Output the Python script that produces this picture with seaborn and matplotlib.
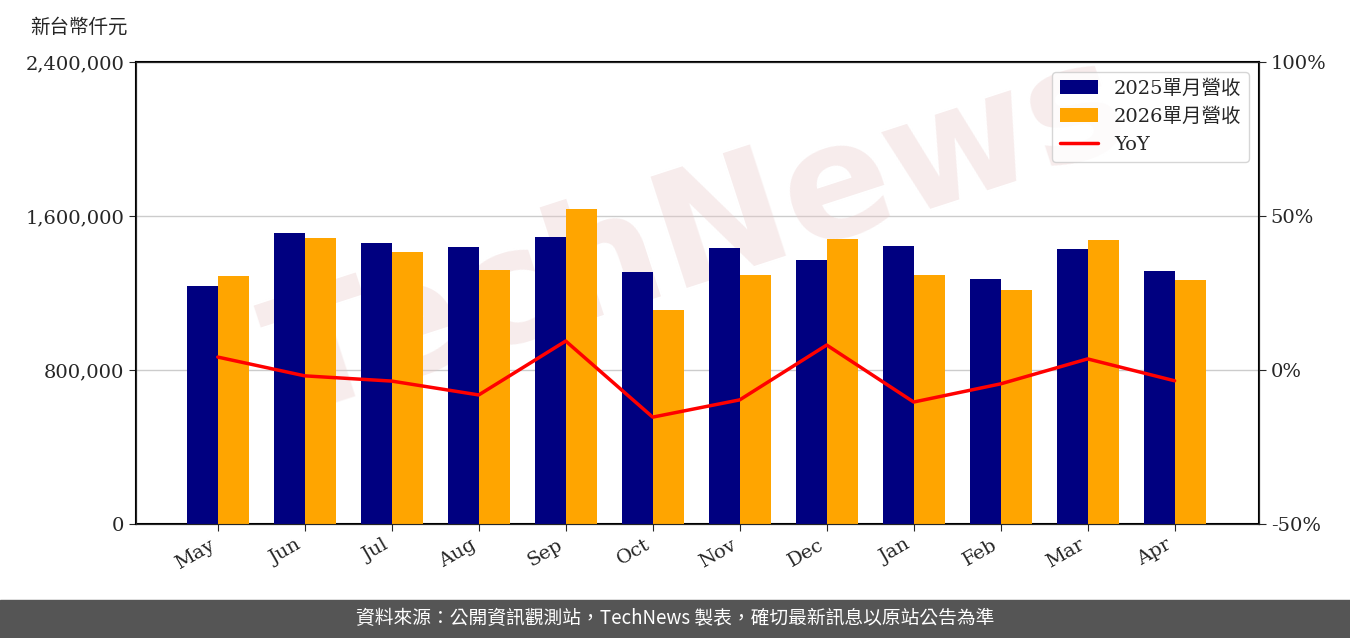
import pandas as pd
import seaborn as sns
import matplotlib.pyplot as plt
from matplotlib.ticker import FuncFormatter

months = ['May', 'Jun', 'Jul', 'Aug', 'Sep', 'Oct', 'Nov', 'Dec', 'Jan', 'Feb', 'Mar', 'Apr']
rev_2025 = [1236000, 1512000, 1460000, 1439000, 1491000, 1309000, 1434000, 1371000, 1444000, 1273000, 1429000, 1314000]
rev_2026 = [1288000, 1486000, 1413000, 1320000, 1636000, 1112000, 1294000, 1481000, 1294000, 1216000, 1475000, 1268000]
yoy = [4.2, -1.9, -3.6, -8.1, 9.4, -15.3, -9.7, 8.1, -10.4, -4.5, 3.6, -3.5]
lab_a = '2025單月營收'
lab_b = '2026單月營收'

fams = ['DejaVu Serif', 'Noto Sans CJK TC']
sns.set_style('white')
plt.rcParams['font.family'] = fams

df = pd.DataFrame({'month': months * 2,
                   'rev': rev_2025 + rev_2026,
                   'series': [lab_a] * 12 + [lab_b] * 12})

fig = plt.figure(figsize=(13.5, 6.38), dpi=100)
ax = fig.add_axes([136 / 1350, 1 - 524 / 638, 1123 / 1350, 462 / 638])

# watermark, behind the bars
ax.text(0.5, 0.62, 'TechNews', transform=ax.transAxes, fontsize=115, color='#e8c8c8',
        alpha=0.35, rotation=18, ha='center', va='center', family='DejaVu Sans',
        fontweight='bold', zorder=1)

sns.barplot(data=df, x='month', y='rev', hue='series', order=months,
            palette=['#000080', '#FFA500'], saturation=1, width=0.71,
            linewidth=0, ax=ax, zorder=3)
ax.set_ylim(0, 2400000)
ax.set_yticks([0, 800000, 1600000, 2400000])
ax.yaxis.set_major_formatter(FuncFormatter(lambda v, p: f'{int(v):,}'))
ax.grid(axis='y', color='#cccccc', linewidth=1, zorder=0)
ax.set_axisbelow(True)
ax.set_xlabel('')
ax.set_ylabel('')
ax.tick_params(axis='both', labelsize=14, length=5, direction='out', left=True, bottom=True)
for lab in ax.get_xticklabels():
    lab.set_rotation(30)
    lab.set_ha('right')
for s in ax.spines.values():
    s.set_color('black')
    s.set_linewidth(1.5)

ax2 = ax.twinx()
ax2.plot(range(len(months)), yoy, color='red', linewidth=2.5, label='YoY')
ax2.set_ylim(-50, 100)
ax2.set_yticks([-50, 0, 50, 100])
ax2.yaxis.set_major_formatter(FuncFormatter(lambda v, p: f'{int(v)}%'))
ax2.tick_params(axis='y', labelsize=14, length=5, right=True)
ax.set_xlim(-0.94, 11.97)

h1, l1 = ax.get_legend_handles_labels()
h2, l2 = ax2.get_legend_handles_labels()
ax.get_legend().remove()
ax2.legend(h1 + h2, l1 + l2, loc='upper right', fontsize=14, frameon=True, fancybox=True)

fig.text(30 / 1350, 1 - 27 / 638, '新台幣仟元', fontsize=14, va='center', ha='left')

fig.patches.append(plt.Rectangle((0, 0), 1, 38 / 638, transform=fig.transFigure,
                                 color='#555555', zorder=-1))
fig.text(0.5, 19 / 638, '資料來源：公開資訊觀測站，TechNews 製表，確切最新訊息以原站公告為準',
         color='white', fontsize=13.5, ha='center', va='center',
         family=['Noto Sans CJK TC', 'DejaVu Sans'])

fig.savefig('out.png', dpi=100)
